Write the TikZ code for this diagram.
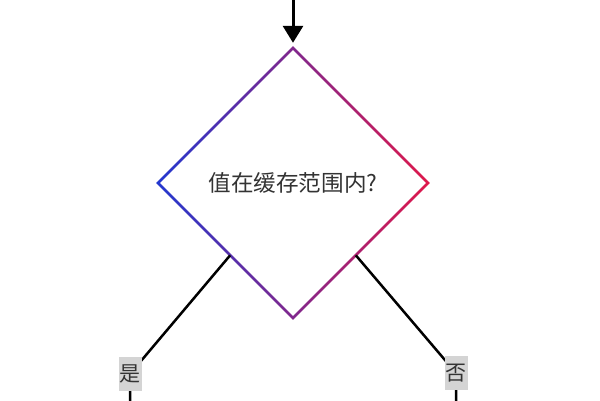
\documentclass[tikz,border=0pt]{standalone}
\usepackage{fontspec}
\setmainfont{Noto Sans CJK SC}
\usetikzlibrary{shapes.geometric,arrows.meta}
\definecolor{blueC}{HTML}{2238D0}
\definecolor{purpleC}{HTML}{7A2AB0}
\definecolor{redC}{HTML}{E0184A}
\definecolor{txt}{HTML}{333333}
\definecolor{lab}{HTML}{D4D4D4}
\tikzset{
  conn/.style={line width=2.5pt, black},
  lbl/.style={fill=lab, text=txt, inner sep=0pt, minimum width=23pt, minimum height=34pt, font=\fontsize{21}{24}\selectfont},
}
\begin{document}
\begin{tikzpicture}[x=1pt,y=-1pt]
\useasboundingbox (0,0) rectangle (600,400);
\fill[white] (0,0) rectangle (600,400);
% gradient diamond outline
\begin{scope}[even odd rule]
\clip (293,{183-136.8}) -- ({293+136.8},183) -- (293,{183+136.8}) -- ({293-136.8},183) -- cycle
  (293,{183-133.2}) -- ({293+133.2},183) -- (293,{183+133.2}) -- ({293-133.2},183) -- cycle;
\shade[left color=blueC, middle color=purpleC, right color=redC] (155,45) rectangle (431,321);
\end{scope}
\node[diamond, minimum width=270pt, minimum height=270pt, inner sep=0pt, aspect=1, text=txt, font=\fontsize{22.6}{26}\selectfont] (d) at (293,183) {值在缓存范围内?};
% incoming arrow
\coordinate (top) at (293,-3);
\draw[line width=3pt, -{Triangle[width=20pt,length=17pt]}, shorten >=5pt] (top) -- (d.north);
% branches
\coordinate (cL) at (130,374);
\coordinate (eL) at (130,403);
\coordinate (cR) at (456,373);
\coordinate (eR) at (456,403);
\draw[conn] (d.229) -- (cL) -- (eL);
\draw[conn] (d.311) -- (cR) -- (eR);
\node[lbl] (yes) at (cL) {是};
\node[lbl] (no) at (cR) {否};
\end{tikzpicture}
\end{document}
